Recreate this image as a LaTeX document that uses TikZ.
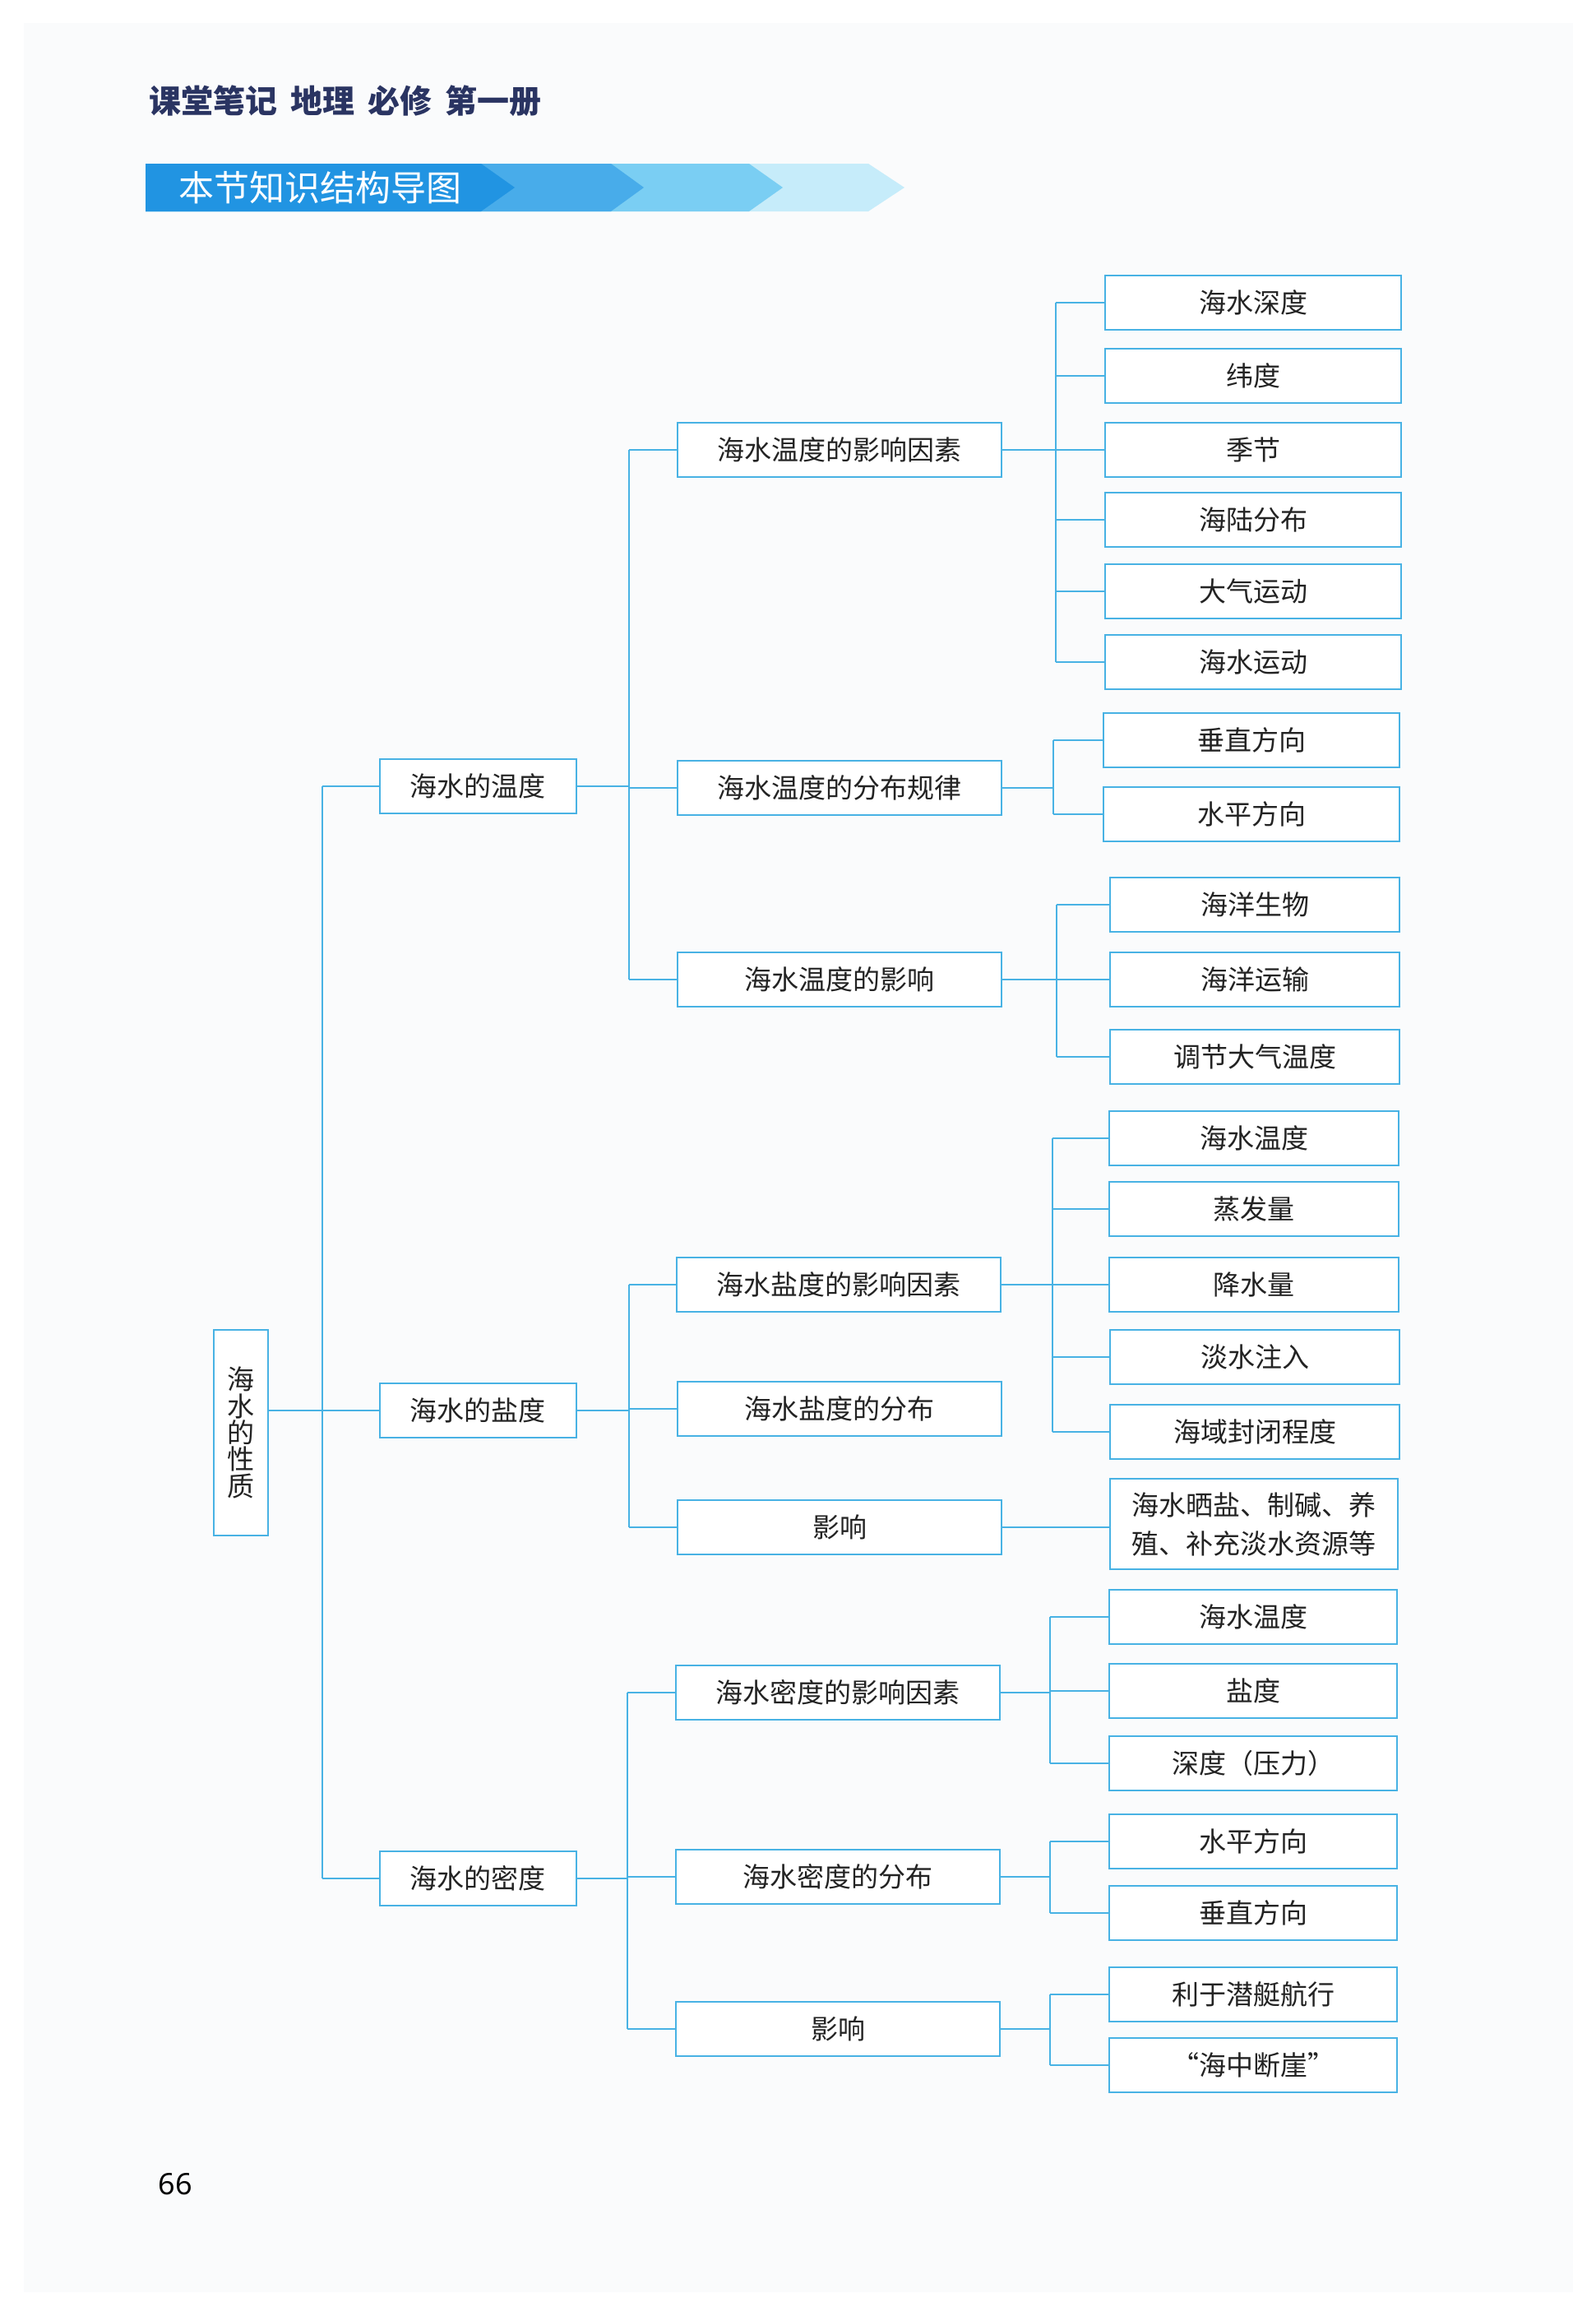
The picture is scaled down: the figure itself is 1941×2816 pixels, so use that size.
\documentclass[tikz,border=0pt]{standalone}
\usepackage{fontspec}
\setmainfont{Noto Sans}
\newfontfamily\cjk{Noto Sans CJK SC}
\definecolor{lc}{RGB}{72,178,228}
\definecolor{tx}{RGB}{35,35,35}
\definecolor{navy}{RGB}{42,52,98}
\definecolor{b1}{RGB}{33,148,226}
\definecolor{b2}{RGB}{72,172,234}
\definecolor{b3}{RGB}{122,206,243}
\definecolor{b4}{RGB}{198,236,250}
\definecolor{pg}{RGB}{250,251,252}
\tikzset{
  bx/.style={draw=lc, line width=1pt, fill=white, inner sep=0pt, minimum height=33pt,
    font=\cjk\fontsize{16.5}{20}\selectfont, text=tx},
  lone/.style={bx, minimum width=119.5pt},
  ltwo/.style={bx, minimum width=197pt},
  ln/.style={draw=lc, line width=1pt},
}
\begin{document}
\begin{tikzpicture}[x=0.5pt,y=-0.5pt]
\useasboundingbox (0,0) rectangle (1941,2816);
\fill[white] (0,0) rectangle (1941,2816);
\fill[pg] (29,28) rectangle (1913,2787);

% header
\node[anchor=west, inner sep=0pt, text=navy, font=\cjk\bfseries\fontsize{19.5}{22}\selectfont] (hdr) at (181,123) {课堂笔记\hspace{8pt}地理\hspace{8pt}必修\hspace{8pt}第一册};

% banner
\fill[b4] (177,199) -- (1056,199) -- (1100,228) -- (1056,257) -- (177,257) -- cycle;
\fill[b3] (177,199) -- (911,199) -- (952,228) -- (911,257) -- (177,257) -- cycle;
\fill[b2] (177,199) -- (743,199) -- (783,228) -- (743,257) -- (177,257) -- cycle;
\fill[b1] (177,199) -- (585,199) -- (626,228) -- (585,257) -- (177,257) -- cycle;
\node[anchor=west, inner sep=0pt, text=white, font=\cjk\fontsize{21.5}{24}\selectfont] (ban) at (217,228) {本节知识结构导图};

% root
\node[bx, minimum width=33pt, minimum height=125pt, align=center,
  font=\cjk\fontsize{16.5}{16.2}\selectfont] (root) at (293,1742) {海\\水\\的\\性\\质};

% level 1
\node[lone] (w) at (581,956) {海水的温度};
\node[lone] (s) at (581,1715) {海水的盐度};
\node[lone] (d) at (581,2284) {海水的密度};

% level 2
\node[ltwo] (wa) at (1021,547) {海水温度的影响因素};
\node[ltwo] (wb) at (1021,958) {海水温度的分布规律};
\node[ltwo] (wc) at (1021,1191) {海水温度的影响};
\node[ltwo] (sa) at (1020,1562) {海水盐度的影响因素};
\node[ltwo] (sb) at (1021,1713) {海水盐度的分布};
\node[ltwo] (sc) at (1021,1857) {影响};
\node[ltwo] (da) at (1019,2058) {海水密度的影响因素};
\node[ltwo] (db) at (1019,2282) {海水密度的分布};
\node[ltwo] (dc) at (1019,2467) {影响};

% level 3 temperature
\begin{scope}[every node/.style={bx, minimum width=180pt}]
\node (wa1) at (1524,368) {海水深度};
\node (wa2) at (1524,457) {纬度};
\node (wa3) at (1524,547) {季节};
\node (wa4) at (1524,632) {海陆分布};
\node (wa5) at (1524,719) {大气运动};
\node (wa6) at (1524,805) {海水运动};
\node (wb1) at (1522,900) {垂直方向};
\node (wb2) at (1522,990) {水平方向};
\end{scope}
\begin{scope}[every node/.style={bx, minimum width=176pt}]
\node (wc1) at (1526,1100) {海洋生物};
\node (wc2) at (1526,1191) {海洋运输};
\node (wc3) at (1526,1285) {调节大气温度};
\node (sa1) at (1525,1384) {海水温度};
\node (sa2) at (1525,1470) {蒸发量};
\node (sa3) at (1525,1562) {降水量};
\node (sa4) at (1526,1650) {淡水注入};
\node (sa5) at (1526,1741) {海域封闭程度};
\end{scope}
\node[bx, minimum width=175pt, minimum height=55pt, align=center,
  font=\cjk\fontsize{16.5}{23.5}\selectfont] (scx) at (1525,1853) {海水晒盐、制碱、养\\殖、补充淡水资源等};
\begin{scope}[every node/.style={bx, minimum width=175pt}]
\node (da1) at (1524,1966) {海水温度};
\node (da2) at (1524,2056) {盐度};
\node (da3) at (1524,2144) {深度（压力）};
\node (db1) at (1524,2239) {水平方向};
\node (db2) at (1524,2326) {垂直方向};
\node (dc1) at (1524,2425) {利于潜艇航行};
\node (dc2) at (1524,2511) {“海中断崖”};
\end{scope}

% trunk coordinates
\coordinate (t0) at (392,0);
\coordinate (tw) at (765,0);
\coordinate (ts) at (765,0);
\coordinate (td) at (763,0);
\coordinate (twa) at (1284,0);
\coordinate (twb) at (1281,0);
\coordinate (twc) at (1285,0);
\coordinate (tsa) at (1280,0);
\coordinate (tda) at (1277,0);

% root connections
\draw[ln] (root.east |- s.west) -- (s.west);
\draw[ln] (t0 |- w.west) -- (t0 |- d.west);
\foreach \n in {w,d} \draw[ln] (t0 |- \n.west) -- (\n.west);

% level1 -> level2
\foreach \p/\t/\a/\c/\lst in {w/tw/wa/wc/{wa,wb,wc}, s/ts/sa/sc/{sa,sb,sc}, d/td/da/dc/{da,db,dc}}{
  \draw[ln] (\p.east) -- (\p.east -| \t);
  \draw[ln] (\a.west -| \t) -- (\c.west -| \t);
  \foreach \n in \lst \draw[ln] (\n.west -| \t) -- (\n.west);
}

% level2 -> level3
\foreach \p/\t/\a/\c/\lst in {wa/twa/wa1/wa6/{wa1,wa2,wa3,wa4,wa5,wa6}, wb/twb/wb1/wb2/{wb1,wb2}, wc/twc/wc1/wc3/{wc1,wc2,wc3}, sa/tsa/sa1/sa5/{sa1,sa2,sa3,sa4,sa5}, da/tda/da1/da3/{da1,da2,da3}, db/tda/db1/db2/{db1,db2}, dc/tda/dc1/dc2/{dc1,dc2}}{
  \draw[ln] (\p.east) -- (\p.east -| \t);
  \draw[ln] (\a.west -| \t) -- (\c.west -| \t);
  \foreach \n in \lst \draw[ln] (\n.west -| \t) -- (\n.west);
}
\draw[ln] (sc.east) -- (sc.east -| scx.west);

% page number
\node[inner sep=0pt, text=black, font=\fontsize{18}{20}\selectfont] (pno) at (213,2656) {66};
\end{tikzpicture}
\end{document}
